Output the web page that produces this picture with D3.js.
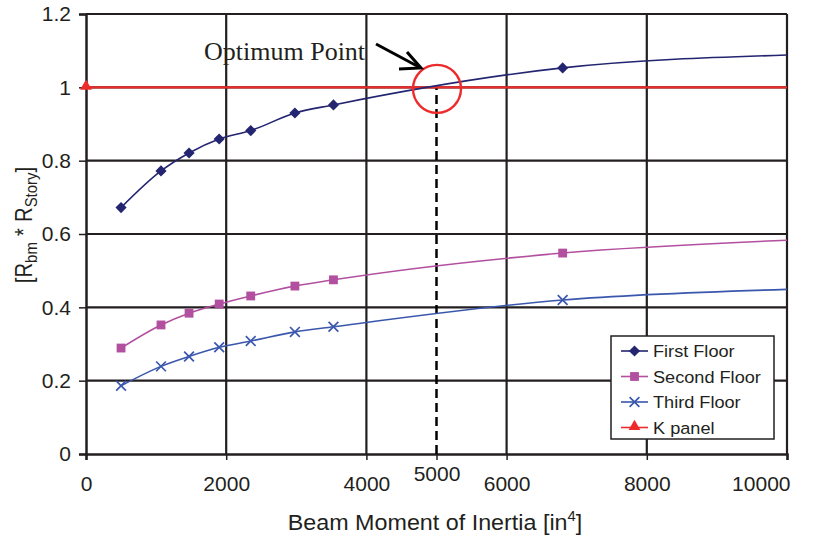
<!DOCTYPE html>
<html><head><meta charset="utf-8">
<script src="https://cdn.jsdelivr.net/npm/d3@7"></script>
<style>body{margin:0;background:#fff}</style>
</head><body><svg id="c" width="820" height="539"></svg>
<script>
const inertia = [500, 1070, 1470, 1900, 2350, 2980, 3530, 6800, 10000];
const firstFloor  = [0.672, 0.772, 0.821, 0.859, 0.882, 0.930, 0.952, 1.053, 1.088];
const secondFloor = [0.289, 0.352, 0.384, 0.409, 0.431, 0.458, 0.475, 0.548, 0.583];
const thirdFloor  = [0.186, 0.239, 0.266, 0.291, 0.308, 0.333, 0.347, 0.420, 0.449];
const kPanelX = [0, 10000];
const kPanelY = [1, 1];
const optimumX = 5000, optimumY = 1;
const xTicks = [0, 2000, 4000, 6000, 8000, 10000];
const yTicks = [0, 0.2, 0.4, 0.6, 0.8, 1, 1.2];
const seriesNames = ["First Floor", "Second Floor", "Third Floor", "K panel"];
const colors = ["#232570", "#b24f9f", "#3a57ad", "#ee2b2b"];

const svg = d3.select("#c");
const L = 86, R = 787, T = 14, B = 454;
const x = d3.scaleLinear().domain([0, 10000]).range([L, R]);
const y = d3.scaleLinear().domain([0, 1.2]).range([B, T]);

svg.append("clipPath").attr("id", "pc").append("rect")
  .attr("x", L).attr("y", T - 2).attr("width", R - L + 1).attr("height", B - T + 4);

// grid
const g = svg.append("g");
xTicks.slice(1).forEach(v => g.append("line").attr("x1", x(v)).attr("x2", x(v)).attr("y1", T).attr("y2", B)
  .attr("stroke", "#231f20").attr("stroke-width", 2.2));
yTicks.slice(1).forEach(v => g.append("line").attr("x1", L).attr("x2", R).attr("y1", y(v)).attr("y2", y(v))
  .attr("stroke", "#231f20").attr("stroke-width", 2.2));

// axes
const fontSans = "'Liberation Sans', Arial, sans-serif";
const yAxis = svg.append("g").attr("transform", `translate(${L},0)`)
  .call(d3.axisLeft(y).tickValues(yTicks).tickFormat(d => d3.format("")(+d.toFixed(1))).tickSize(7).tickPadding(8));
const xAxis = svg.append("g").attr("transform", `translate(0,${B})`)
  .call(d3.axisBottom(x).tickValues(xTicks.concat([optimumX])).tickFormat(d3.format("d")).tickSize(6).tickPadding(16));
[yAxis, xAxis].forEach(a => {
  a.select(".domain").attr("stroke", "#231f20").attr("stroke-width", 2.5);
  a.selectAll(".tick line").attr("stroke", "#231f20").attr("stroke-width", 1.5);
  a.selectAll("text").attr("font-family", fontSans).attr("font-size", 21).attr("fill", "#231f20");
});
xAxis.selectAll(".tick").filter(d => d === optimumX).select("text").attr("y", 12);
xAxis.selectAll(".tick").filter(d => d === 10000).select("text").attr("text-anchor", "end").attr("x", 3);

// dashed vertical line at optimum
svg.append("line").attr("x1", x(optimumX)).attr("x2", x(optimumX)).attr("y1", B).attr("y2", y(optimumY))
  .attr("stroke", "#000").attr("stroke-width", 2.5).attr("stroke-dasharray", "9,5");

// series
const data = [firstFloor, secondFloor, thirdFloor];
const line = d3.line().x(d => x(d[0])).y(d => y(d[1])).curve(d3.curveMonotoneX);
const cp = svg.append("g").attr("clip-path", "url(#pc)");
cp.append("path").datum(kPanelX.map((v, i) => [v, kPanelY[i]]))
  .attr("d", d3.line().x(d => x(d[0])).y(d => y(d[1]))).attr("stroke", colors[3]).attr("stroke-width", 2.2).attr("fill", "none");
data.forEach((s, k) => {
  cp.append("path").datum(inertia.map((v, i) => [v, s[i]])).attr("d", line)
    .attr("stroke", colors[k]).attr("stroke-width", 1.6).attr("fill", "none");
});

const sym = [d3.symbolSquare, d3.symbolSquare, d3.symbolX, d3.symbolTriangle];
const symSize = [62, 78, 64, 60];
function marker(sel, k, px, py) {
  const p = sel.append("path").attr("transform", `translate(${px},${py})` + (k === 0 ? " rotate(45)" : ""))
    .attr("d", d3.symbol().type(sym[k]).size(symSize[k])());
  if (k === 2) p.attr("stroke", colors[k]).attr("stroke-width", 1.7).attr("fill", "none");
  else p.attr("fill", colors[k]);
  return p;
}
// markers on measured points (last point at the plot edge carries no marker)
data.forEach((s, k) => {
  inertia.slice(0, -1).forEach((v, i) => marker(svg, k, x(v), y(s[i])));
});
marker(svg, 3, x(kPanelX[0]), y(kPanelY[0]) - 1);

// circle around optimum
svg.append("circle").attr("cx", x(optimumX) + 0.5).attr("cy", y(optimumY) + 1.5).attr("r", 24)
  .attr("fill", "none").attr("stroke", "#ee2b2b").attr("stroke-width", 2.4);

// annotation
svg.append("text").attr("x", 204).attr("y", 60).text("Optimum Point")
  .attr("font-family", "'Liberation Serif', 'Times New Roman', serif").attr("font-size", 26).attr("fill", "#231f20");
svg.append("line").attr("x1", 376).attr("y1", 44).attr("x2", 419).attr("y2", 67)
  .attr("stroke", "#000").attr("stroke-width", 3);
svg.append("path").attr("d", "M407,52 L421,68 L399,69").attr("fill", "none").attr("stroke", "#000").attr("stroke-width", 3);

// axis titles
svg.append("text").attr("transform", "translate(435,530) scale(1.06,1)").attr("text-anchor", "middle")
  .attr("font-family", fontSans).attr("font-size", 22).attr("fill", "#231f20")
  .html('Beam Moment of Inertia [in<tspan dy="-9" font-size="14">4</tspan><tspan dy="9">]</tspan>');
const yt = svg.append("text").attr("transform", "translate(32,225) rotate(-90) scale(0.88,1)").attr("text-anchor", "middle")
  .attr("font-family", fontSans).attr("font-size", 23).attr("fill", "#231f20");
yt.append("tspan").text("[R");
yt.append("tspan").attr("dy", 5).attr("font-size", 17).text("bm");
yt.append("tspan").attr("dy", -5).attr("dx", 7).text("*");
yt.append("tspan").attr("dx", 7).text("R");
yt.append("tspan").attr("dy", 5).attr("font-size", 17).text("Story");
yt.append("tspan").attr("dy", -5).text("]");

// legend
const lg = svg.append("g").attr("transform", "translate(611,336)");
lg.append("rect").attr("width", 163).attr("height", 103).attr("fill", "#fff").attr("stroke", "#231f20").attr("stroke-width", 1.5);
seriesNames.forEach((n, k) => {
  const yy = 15 + k * 25.5;
  lg.append("line").attr("x1", 10).attr("x2", 37).attr("y1", yy).attr("y2", yy).attr("stroke", colors[k]).attr("stroke-width", 1.6);
  marker(lg, k, 23.5, yy - (k === 3 ? 1 : 0));
  lg.append("text").attr("transform", `translate(42,${yy + 6}) scale(1.1,1)`).text(n)
    .attr("font-family", fontSans).attr("font-size", 16.5).attr("fill", "#231f20");
});
</script></body></html>
